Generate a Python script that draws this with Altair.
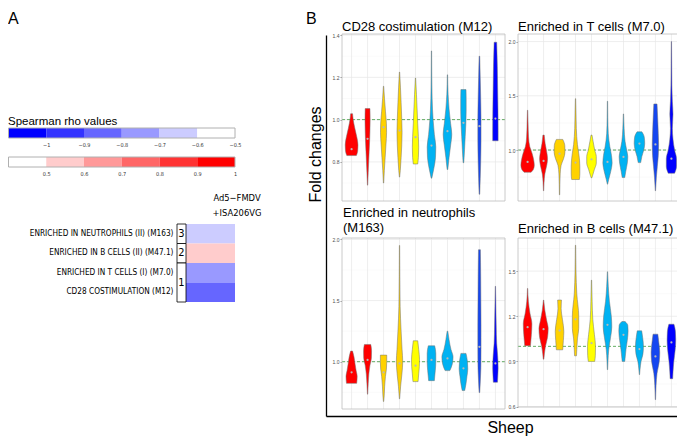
import altair as alt
import pandas as pd

W, H = 669, 430
SANS = "Liberation Sans, Arial, Helvetica, sans-serif"
NARROW = "Liberation Sans Narrow, Arial Narrow, DejaVu Sans Condensed, Liberation Sans, sans-serif"

# ---------------- Panel A: colour key ----------------
neg_lo = [-1.1, -1.0, -0.9, -0.8, -0.7, -0.6]
neg_hi = [-1.0, -0.9, -0.8, -0.7, -0.6, -0.5]
neg_colors = ["#0000FF", "#3333FF", "#6666FF", "#9999FF", "#CCCCFF", "#FFFFFF"]
neg_ticks = [-1.0, -0.9, -0.8, -0.7, -0.6, -0.5]
pos_lo = [0.4, 0.5, 0.6, 0.7, 0.8, 0.9]
pos_hi = [0.5, 0.6, 0.7, 0.8, 0.9, 1.0]
pos_colors = ["#FFFFFF", "#FFCCCC", "#FF9999", "#FF6666", "#FF3333", "#FF0000"]
pos_ticks = [0.5, 0.6, 0.7, 0.8, 0.9, 1.0]
rho_thresholds = [-1.0, -0.9, -0.8, -0.7, -0.6, 0.5, 0.6, 0.7, 0.8, 0.9]
rho_colors = ["#0000FF", "#3333FF", "#6666FF", "#9999FF", "#CCCCFF", "#FFFFFF",
              "#FFCCCC", "#FF9999", "#FF6666", "#FF3333", "#FF0000"]

# ---------------- Panel A: heatmap ----------------
modules = ["ENRICHED IN NEUTROPHILS (II) (M163)", "ENRICHED IN B CELLS (II) (M47.1)",
           "ENRICHED IN T CELLS (I) (M7.0)", "CD28 COSTIMULATION (M12)"]
module_rho = [-0.65, 0.55, -0.75, -0.85]
condition = "Ad5−FMDV +ISA206VG"
group_labels = ["3", "2", "1"]
group_start = [0, 1, 2]
group_end = [1, 2, 4]

# ---------------- Panel B: violins ----------------
sheep = list(range(1, 11))
violin_colors = ["#FF0000", "#FF0000", "#FFD200", "#FFD200", "#FFFF00",
                 "#00B2F2", "#00B2F2", "#00B2F2", "#1446F0", "#0000FF"]

# each violin: (fold change, half width in sheep units), read top to bottom
cd28_profiles = [
    [(1.028, 0.06), (1.0, 0.1), (0.96, 0.2), (0.92, 0.32), (0.88, 0.4), (0.85, 0.38), (0.83, 0.3)],
    [(1.052, 0.15), (1.0, 0.16), (0.95, 0.15), (0.9, 0.13), (0.85, 0.1), (0.8, 0.07), (0.75, 0.04), (0.69, 0.01)],
    [(1.158, 0.01), (1.10, 0.06), (1.04, 0.12), (0.98, 0.18), (0.94, 0.19), (0.88, 0.15), (0.82, 0.1), (0.76, 0.05), (0.70, 0.01)],
    [(1.225, 0.01), (1.15, 0.06), (1.08, 0.1), (1.0, 0.14), (0.94, 0.16), (0.88, 0.14), (0.82, 0.1), (0.76, 0.05), (0.728, 0.01)],
    [(1.197, 0.01), (1.12, 0.06), (1.05, 0.1), (0.98, 0.14), (0.92, 0.18), (0.87, 0.2), (0.82, 0.18), (0.79, 0.14)],
    [(1.325, 0.01), (1.2, 0.02), (1.1, 0.04), (1.0, 0.1), (0.93, 0.18), (0.87, 0.27), (0.82, 0.25), (0.77, 0.15), (0.723, 0.02)],
    [(1.212, 0.01), (1.12, 0.04), (1.05, 0.1), (0.98, 0.2), (0.93, 0.27), (0.88, 0.2), (0.82, 0.1), (0.764, 0.02)],
    [(1.142, 0.16), (1.10, 0.17), (1.04, 0.17), (0.98, 0.15), (0.92, 0.11), (0.86, 0.07), (0.82, 0.04), (0.796, 0.02)],
    [(1.30, 0.02), (1.2, 0.05), (1.1, 0.08), (1.0, 0.1), (0.9, 0.1), (0.8, 0.08), (0.72, 0.05), (0.647, 0.02)],
    [(1.366, 0.08), (1.25, 0.12), (1.15, 0.14), (1.05, 0.16), (0.95, 0.17), (0.90, 0.17)],
]
cd28_medians = [0.86, 0.909, 0.964, 0.948, 0.917, 0.877, 0.945, 0.985, 0.969, 1.005]

tcell_profiles = [
    [(1.367, 0.01), (1.25, 0.03), (1.12, 0.06), (1.03, 0.14), (0.97, 0.28), (0.91, 0.38), (0.86, 0.42), (0.82, 0.36), (0.795, 0.22)],
    [(1.138, 0.04), (1.06, 0.1), (0.98, 0.2), (0.92, 0.25), (0.86, 0.2), (0.78, 0.08), (0.7, 0.03), (0.624, 0.01)],
    [(1.098, 0.2), (1.04, 0.33), (0.98, 0.34), (0.92, 0.25), (0.86, 0.1), (0.78, 0.04), (0.68, 0.02), (0.587, 0.01)],
    [(1.474, 0.01), (1.35, 0.03), (1.2, 0.05), (1.05, 0.12), (0.95, 0.22), (0.85, 0.27), (0.78, 0.27), (0.728, 0.24)],
    [(1.138, 0.03), (1.08, 0.1), (1.0, 0.2), (0.94, 0.3), (0.88, 0.3), (0.82, 0.18), (0.77, 0.08), (0.743, 0.02)],
    [(1.45, 0.01), (1.3, 0.02), (1.15, 0.05), (1.03, 0.15), (0.95, 0.25), (0.88, 0.29), (0.8, 0.2), (0.73, 0.08), (0.685, 0.01)],
    [(1.333, 0.01), (1.2, 0.04), (1.08, 0.1), (1.0, 0.2), (0.94, 0.27), (0.88, 0.24), (0.8, 0.14), (0.746, 0.08)],
    [(1.168, 0.15), (1.12, 0.3), (1.06, 0.33), (1.0, 0.27), (0.94, 0.15), (0.884, 0.08)],
    [(1.425, 0.1), (1.3, 0.14), (1.15, 0.18), (1.05, 0.2), (0.95, 0.18), (0.85, 0.12), (0.75, 0.06), (0.624, 0.01)],
    [(2.0, 0.01), (1.8, 0.02), (1.6, 0.03), (1.45, 0.06), (1.33, 0.1), (1.2, 0.06), (1.1, 0.1), (1.0, 0.2), (0.92, 0.32), (0.85, 0.32), (0.786, 0.2)],
]
tcell_medians = [0.89, 0.90, 0.966, 0.884, 0.914, 0.89, 0.936, 1.06, 1.052, 0.92]

neutro_profiles = [
    [(1.087, 0.06), (1.04, 0.15), (0.98, 0.22), (0.93, 0.28), (0.88, 0.35), (0.823, 0.32)],
    [(1.141, 0.2), (1.09, 0.25), (1.03, 0.24), (0.97, 0.15), (0.9, 0.08), (0.82, 0.04), (0.734, 0.01)],
    [(1.054, 0.2), (1.0, 0.2), (0.94, 0.18), (0.88, 0.12), (0.8, 0.07), (0.72, 0.04), (0.674, 0.01)],
    [(1.951, 0.01), (1.7, 0.02), (1.45, 0.04), (1.25, 0.1), (1.1, 0.16), (1.0, 0.2), (0.9, 0.15), (0.8, 0.07), (0.696, 0.01)],
    [(1.171, 0.14), (1.1, 0.2), (1.02, 0.25), (0.96, 0.24), (0.9, 0.2), (0.837, 0.16)],
    [(1.13, 0.2), (1.07, 0.27), (1.0, 0.27), (0.93, 0.24), (0.875, 0.2), (0.845, 0.18)],
    [(1.25, 0.02), (1.18, 0.1), (1.1, 0.22), (1.04, 0.35), (0.98, 0.3), (0.927, 0.15)],
    [(1.068, 0.16), (1.0, 0.25), (0.94, 0.27), (0.88, 0.22), (0.82, 0.16), (0.764, 0.08)],
    [(1.916, 0.06), (1.7, 0.08), (1.5, 0.09), (1.3, 0.1), (1.1, 0.1), (0.95, 0.09), (0.85, 0.06), (0.747, 0.02)],
    [(1.617, 0.01), (1.45, 0.03), (1.3, 0.05), (1.15, 0.08), (1.05, 0.14), (0.95, 0.17), (0.88, 0.15), (0.832, 0.13)],
]
neutro_medians = [0.913, 1.014, 0.913, 0.986, 0.967, 1.014, 1.027, 0.946, 1.122, 0.986]

bcell_profiles = [
    [(1.385, 0.01), (1.3, 0.05), (1.22, 0.15), (1.15, 0.27), (1.08, 0.24), (1.03, 0.2), (1.004, 0.18)],
    [(1.308, 0.01), (1.24, 0.08), (1.17, 0.2), (1.12, 0.29), (1.06, 0.25), (1.0, 0.12), (0.95, 0.05), (0.915, 0.02)],
    [(1.308, 0.12), (1.25, 0.1), (1.18, 0.18), (1.1, 0.27), (1.04, 0.24), (0.977, 0.2)],
    [(1.672, 0.01), (1.5, 0.03), (1.35, 0.08), (1.2, 0.2), (1.12, 0.2), (1.05, 0.12), (0.98, 0.08), (0.937, 0.06)],
    [(1.44, 0.01), (1.3, 0.04), (1.18, 0.08), (1.08, 0.18), (1.0, 0.25), (0.94, 0.24), (0.9, 0.2)],
    [(1.496, 0.01), (1.4, 0.05), (1.3, 0.12), (1.2, 0.24), (1.13, 0.27), (1.05, 0.18), (0.98, 0.08), (0.9, 0.03), (0.845, 0.01)],
    [(1.165, 0.1), (1.14, 0.27), (1.1, 0.29), (1.04, 0.24), (0.98, 0.16), (0.92, 0.1), (0.9, 0.08)],
    [(1.103, 0.14), (1.06, 0.2), (1.0, 0.25), (0.95, 0.22), (0.9, 0.1), (0.85, 0.04), (0.812, 0.01)],
    [(1.081, 0.15), (1.02, 0.22), (0.96, 0.27), (0.9, 0.24), (0.82, 0.1), (0.74, 0.04), (0.646, 0.01)],
    [(1.147, 0.16), (1.1, 0.25), (1.04, 0.27), (0.98, 0.24), (0.9, 0.15), (0.83, 0.1), (0.785, 0.08)],
]
bcell_medians = [1.127, 1.114, 1.105, 1.18, 1.021, 1.143, 1.077, 0.982, 0.933, 1.026]

one = pd.DataFrame({"k": [0]})


def rect_value(x0, x1, y0, y1, **kw):
    return alt.Chart(one).mark_rect(**kw).encode(
        x=alt.value(x0), x2=alt.value(x1), y=alt.value(y0), y2=alt.value(y1))


def label(txt, x, y, size, font=SANS, align="left", baseline="middle", **kw):
    return alt.Chart(one).mark_text(text=txt, align=align, baseline=baseline, fontSize=size,
                                    font=font, color="black", **kw).encode(
        x=alt.value(x), y=alt.value(y))


def violin_panel(profiles, medians, box, domain, ticks, minor):
    x0, x1, y0, y1 = box
    rows = []
    for i, prof in enumerate(profiles, start=1):
        for v, w in prof:
            rows.append({"sheep": i, "fc": v, "left": i - w, "right": i + w})
    vdf = pd.DataFrame(rows)
    xs = alt.Scale(domain=[0.4, 10.6], range=[x0, x1], nice=False, zero=False)
    ys = alt.Scale(domain=domain, range=[y1, y0], nice=False, zero=False)
    bg = rect_value(x0, x1, y0, y1, fill="white", strokeOpacity=0)
    g_minor = alt.Chart(pd.DataFrame({"g": minor})).mark_rule(color="#F4F4F4", strokeWidth=0.5).encode(
        y=alt.Y("g:Q", scale=ys, axis=None), x=alt.value(x0), x2=alt.value(x1))
    g_major = alt.Chart(pd.DataFrame({"g": ticks})).mark_rule(color="#E6E6E6", strokeWidth=0.7).encode(
        y=alt.Y("g:Q", scale=ys, axis=None), x=alt.value(x0), x2=alt.value(x1))
    g_x = alt.Chart(pd.DataFrame({"s": sheep})).mark_rule(color="#E6E6E6", strokeWidth=0.7).encode(
        x=alt.X("s:Q", scale=xs, axis=None), y=alt.value(y0), y2=alt.value(y1))
    ref = alt.Chart(pd.DataFrame({"r": [1.0]})).mark_rule(
        color="#3F9B3F", strokeDash=[3, 2], strokeWidth=0.8).encode(
        y=alt.Y("r:Q", scale=ys, axis=None), x=alt.value(x0), x2=alt.value(x1))
    vio = alt.Chart(vdf).mark_area(orient="horizontal", interpolate="monotone",
                                   stroke="#707070", strokeWidth=0.5, opacity=1).encode(
        y=alt.Y("fc:Q", scale=ys, axis=alt.Axis(
            orient="left", offset=-x0, values=ticks, format=".1f", title=None, grid=False,
            domain=False, ticks=True, tickSize=2, tickColor="#555555", tickWidth=0.6,
            labelFontSize=5, labelColor="#4D4D4D", labelPadding=1, labelFont=SANS,
            labelOverlap=False)),
        x=alt.X("left:Q", scale=xs, axis=None, stack=None),
        x2="right:Q",
        color=alt.Color("sheep:O", scale=alt.Scale(domain=sheep, range=violin_colors), legend=None),
    )
    med = alt.Chart(pd.DataFrame({"sheep": sheep, "med": medians})).mark_circle(
        size=5, color="#B8B8B8", opacity=1).encode(
        x=alt.X("sheep:Q", scale=xs, axis=None), y=alt.Y("med:Q", scale=ys, axis=None))
    border = rect_value(x0, x1, y0, y1, fillOpacity=0, stroke="#BDBDBD", strokeWidth=0.8)
    return [bg, g_minor, g_major, g_x, ref, vio, med, border]


layers = []

# ---- outer frame of panel B (axis lines + titles) ----
frame = alt.Chart(pd.DataFrame({"fx": [0.0], "fy": [0.0]})).mark_point(opacity=0).encode(
    x=alt.X("fx:Q", scale=alt.Scale(domain=[0, 1], range=[318, 677]), axis=alt.Axis(
        orient="bottom", offset=408 - H, domain=True, domainColor="black", domainWidth=1.3,
        ticks=False, labels=False, grid=False, title="Sheep", titleFont=SANS, titleFontSize=16,
        titleFontWeight="normal", titleColor="black", titlePadding=3, titleX=502)),
    y=alt.Y("fy:Q", scale=alt.Scale(domain=[0, 1], range=[408, 27]), axis=alt.Axis(
        orient="left", offset=-318, domain=True, domainColor="black", domainWidth=1.3,
        ticks=False, labels=False, grid=False, title="Fold changes", titleFont=SANS,
        titleFontSize=16, titleFontWeight="normal", titleColor="black", titlePadding=3,
        titleY=146)),
)
layers.append(frame)

layers += violin_panel(cd28_profiles, cd28_medians, (334, 497, 26, 193),
                       [0.615, 1.405], [0.8, 1.0, 1.2, 1.4], [0.7, 0.9, 1.1, 1.3])
layers += violin_panel(tcell_profiles, tcell_medians, (510, 673, 26, 193),
                       [0.53, 2.07], [1.0, 1.5, 2.0], [0.75, 1.25, 1.75])
layers += violin_panel(neutro_profiles, neutro_medians, (334, 497, 230, 401),
                       [0.613, 2.012], [1.0, 1.5, 2.0], [0.75, 1.25, 1.75])
layers += violin_panel(bcell_profiles, bcell_medians, (510, 673, 230, 399),
                       [0.597, 1.72], [0.6, 0.9, 1.2, 1.5], [0.75, 1.05, 1.35, 1.65])

layers += [
    label("CD28 costimulation (M12)", 334, 19, 13),
    label("Enriched in T cells (M7.0)", 510, 19, 13),
    label("Enriched in neutrophils", 335, 205, 13),
    label("(M163)", 335, 220, 13),
    label("Enriched in B cells (M47.1)", 510, 221, 13),
    label("A", 0, 3, 16, baseline="top"),
    label("B", 298, 3, 16, baseline="top"),
    label("Spearman rho values", 0, 117, 11.5, baseline="alphabetic"),
]

# ---- colour keys ----
def colour_key(lo, hi, cols, ticks, y0, y1):
    sx = alt.Scale(domain=[lo[0], hi[-1]], range=[0.5, 227], nice=False, zero=False)
    df = pd.DataFrame({"lo": lo, "hi": hi, "col": cols})
    bar = alt.Chart(df).mark_rect().encode(
        x=alt.X("lo:Q", scale=sx, axis=alt.Axis(
            orient="bottom", offset=y1 - H, values=ticks, format="~g", ticks=False,
            domain=False, grid=False, labelFontSize=5.5, labelPadding=4, labelFlush=False,
            labelOverlap=False, title=None, labelColor="#333333", labelFont=NARROW)),
        x2="hi:Q", y=alt.value(y0), y2=alt.value(y1),
        color=alt.Color("col:N", scale=None))
    outline = alt.Chart(pd.DataFrame({"lo": [lo[0]], "hi": [hi[-1]]})).mark_rect(
        fillOpacity=0, stroke="#B0B0B0", strokeWidth=1).encode(
        x=alt.X("lo:Q", scale=sx, axis=None), x2="hi:Q", y=alt.value(y0), y2=alt.value(y1))
    return [bar, outline]

layers += colour_key(neg_lo, neg_hi, neg_colors, neg_ticks, 120, 130)
layers += colour_key(pos_lo, pos_hi, pos_colors, pos_ticks, 149, 159)

# ---- heatmap ----
hdf = pd.DataFrame({"module": modules, "rho": module_rho, "condition": condition})
heat = alt.Chart(hdf).mark_rect().encode(
    x=alt.X("condition:N", scale=alt.Scale(range=[178, 227], paddingInner=0, paddingOuter=0), axis=None),
    y=alt.Y("module:N", sort=modules, scale=alt.Scale(domain=modules, range=[216, 294],
                                                      paddingInner=0, paddingOuter=0),
            axis=alt.Axis(orient="left", offset=-169, title=None, domain=False, ticks=False,
                          labelPadding=4, labelFont=NARROW, labelFontSize=8.2,
                          labelColor="black", labelLimit=400)),
    color=alt.Color("rho:Q", scale=alt.Scale(type="threshold", domain=rho_thresholds,
                                             range=rho_colors), legend=None),
)
gdf = pd.DataFrame({"group": group_labels, "start": group_start, "end": group_end})
gdf["mid"] = (gdf["start"] + gdf["end"]) / 2
gys = alt.Scale(domain=[0, 4], range=[216, 294], nice=False, zero=False)
gbox = alt.Chart(gdf).mark_rect(fill="white", stroke="black", strokeWidth=0.8).encode(
    x=alt.value(169), x2=alt.value(178),
    y=alt.Y("start:Q", scale=gys, axis=None), y2="end:Q")
gtext = alt.Chart(gdf).mark_text(font=NARROW, fontSize=11, align="center", baseline="middle",
                                 color="black").encode(
    x=alt.value(173.5), y=alt.Y("mid:Q", scale=gys, axis=None), text="group:N")
layers += [heat, gbox, gtext,
           label("Ad5−FMDV", 229, 190, 9.3, font=NARROW, align="center"),
           label("+ISA206VG", 229, 205, 9.3, font=NARROW, align="center")]

chart = alt.layer(*layers).properties(
    width=W, height=H, autosize=alt.AutoSizeParams(type="none"), padding=0, background="white"
).resolve_scale(x="independent", y="independent", color="independent").configure_view(stroke=None)

chart.save("out.html", embed_options={"renderer": "svg", "actions": False})
